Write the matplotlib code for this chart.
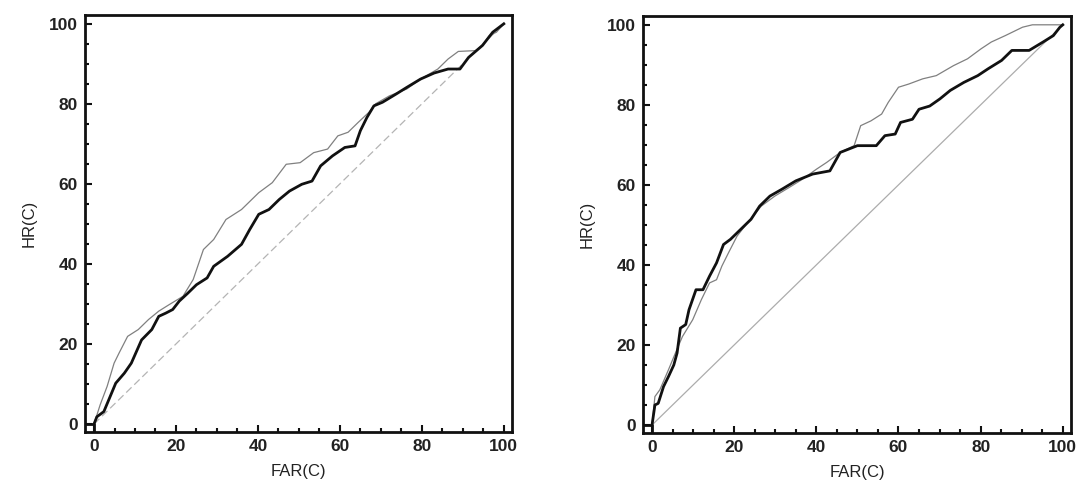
#!/usr/bin/env python3

import matplotlib.pyplot as plt
from matplotlib.ticker import MultipleLocator

# ROC curves (FAR and HR in %)
left_far_a = [0, 0.7, 2.4, 5.3, 7.4, 9.1, 11.6, 14.1, 15.8, 17.5, 19.2, 20.8, 22.9, 25, 27.6, 29.2,
              32.6, 36, 38, 40.2, 42.7, 45.2, 47.7, 50.7, 53.2, 55.3, 58.2, 61.2, 63.7, 65, 66.6,
              68.3, 70.4, 73.8, 76.3, 79.7, 83, 86.4, 89.3, 91.4, 94.8, 97.3, 100]
left_hr_a = [0, 1.8, 3.1, 10.2, 12.7, 15.2, 21, 23.6, 26.9, 27.7, 28.6, 30.7, 32.7, 34.8, 36.5, 39.4,
             41.9, 44.9, 48.6, 52.4, 53.6, 56.1, 58.2, 59.9, 60.7, 64.5, 67, 69.1, 69.5, 73.3, 76.6,
             79.5, 80.4, 82.5, 84.1, 86.2, 87.7, 88.7, 88.7, 91.6, 94.6, 97.9, 100]

left_far_b = [0, 1.5, 3.2, 4.9, 6.1, 8.2, 10.8, 13.3, 15.8, 18.3, 21.7, 24.2, 26.7, 29.2, 32.2, 36,
              40.2, 43.5, 46.9, 50.3, 53.6, 57, 59.5, 62, 64.5, 67.1, 68.7, 72.1, 76.3, 79.7, 83.9,
              86.4, 88.9, 93.1, 94.8, 96.5, 98.2, 100]
left_hr_b = [0, 4.8, 9.4, 15.2, 17.7, 21.9, 23.6, 26.1, 28.2, 29.8, 31.9, 36.1, 43.6, 46.1, 51.1, 53.6,
             57.8, 60.3, 64.9, 65.3, 67.8, 68.7, 72, 72.9, 75.4, 77.9, 80, 82, 83.7, 86.2, 88.7,
             91.2, 93.1, 93.3, 94.6, 97.1, 97.9, 100]

right_far_a = [0, 0.7, 1.5, 2.8, 4, 5.3, 6.1, 6.9, 8.2, 9, 10.7, 12.4, 14, 15.7, 17.4, 19.1, 21.6,
               24.1, 26.2, 28.7, 31.6, 35, 39.1, 43.3, 45.8, 50, 54.6, 56.7, 59.2, 60.5, 63.4, 65,
               67.6, 70.1, 72.6, 75.9, 79.3, 81.8, 85.1, 87.6, 91.8, 95.2, 97.7, 99.3, 100]
right_hr_a = [0, 5, 5.4, 9.6, 12.1, 15, 18, 24.2, 25.1, 28.8, 33.8, 33.8, 37.2, 40.5, 45.1, 46.4, 48.9,
              51.4, 54.7, 57.2, 58.9, 61, 62.7, 63.5, 68.1, 69.8, 69.8, 72.3, 72.7, 75.6, 76.4, 78.9,
              79.7, 81.5, 83.6, 85.6, 87.3, 89, 91.1, 93.6, 93.6, 95.7, 97.3, 99.4, 100]

right_far_b = [0, 0.7, 1.9, 4, 5.7, 7.4, 9.9, 12, 14, 15.7, 17, 18.6, 20.7, 23.2, 26.6, 29.9, 33.3,
               36.6, 40, 42.5, 45.8, 49.2, 50.8, 53.3, 55.9, 57.5, 60, 62.5, 65.9, 69.2, 73.4, 76.8,
               80.1, 82.6, 86, 90.2, 92.6, 100]
right_hr_b = [0, 7.1, 8.8, 13.8, 18, 22.1, 26.3, 31.3, 35.5, 36.3, 39.7, 43, 47.2, 50.5, 54.7, 57.2, 59.3,
              61.4, 63.9, 65.6, 68.1, 69.8, 74.8, 76, 77.7, 80.6, 84.4, 85.2, 86.5, 87.3, 89.8, 91.5,
              94, 95.7, 97.3, 99.4, 100, 100]

diag = [0, 100]
origin_x = [-5, 0, 0]
origin_y = [0, 0, -5]

plt.rcParams['font.family'] = ['Liberation Sans', 'DejaVu Sans']

fig = plt.figure(figsize=(10.8, 4.9), dpi=100)
ax1 = fig.add_axes([85 / 1080, 58 / 490, 427 / 1080, 417 / 490])
ax2 = fig.add_axes([643 / 1080, 57 / 490, 428 / 1080, 417 / 490])

panels = [
    (ax1, left_far_a, left_hr_a, left_far_b, left_hr_b, (0, (6, 3)), '#b4b4b4'),
    (ax2, right_far_a, right_hr_a, right_far_b, right_hr_b, '-', '#acacac'),
]

for ax, fa, ha, fb, hb, dstyle, dcol in panels:
    ax.plot(diag, diag, color=dcol, lw=0.9, linestyle=dstyle)
    ax.plot(fb, hb, color='#808080', lw=0.9)
    ax.plot(fa, ha, color='#111111', lw=2.0)
    ax.plot(origin_x, origin_y, color='#111111', lw=2.0)

    ax.set_xlim(-2.2, 102)
    ax.set_ylim(-2.0, 102.2)
    ax.xaxis.set_major_locator(MultipleLocator(20))
    ax.yaxis.set_major_locator(MultipleLocator(20))
    ax.xaxis.set_minor_locator(MultipleLocator(5))
    ax.yaxis.set_minor_locator(MultipleLocator(5))
    ax.tick_params(which='both', direction='in', top=False, right=False, width=1.5, color='#111111')
    ax.tick_params(which='major', length=5, labelsize=12.5, pad=5)
    ax.tick_params(which='minor', length=3)
    for lab in ax.get_xticklabels() + ax.get_yticklabels():
        lab.set_fontweight('bold')
        lab.set_color('#222222')
    for sp in ax.spines.values():
        sp.set_linewidth(2.0)
        sp.set_color('#111111')

    ax.set_xlabel('FAR(C)', fontsize=12, color='#222222', labelpad=7)
    ax.set_ylabel('HR(C)', fontsize=12, color='#222222', labelpad=9)

fig.savefig('out.png', dpi=100, facecolor='white')
